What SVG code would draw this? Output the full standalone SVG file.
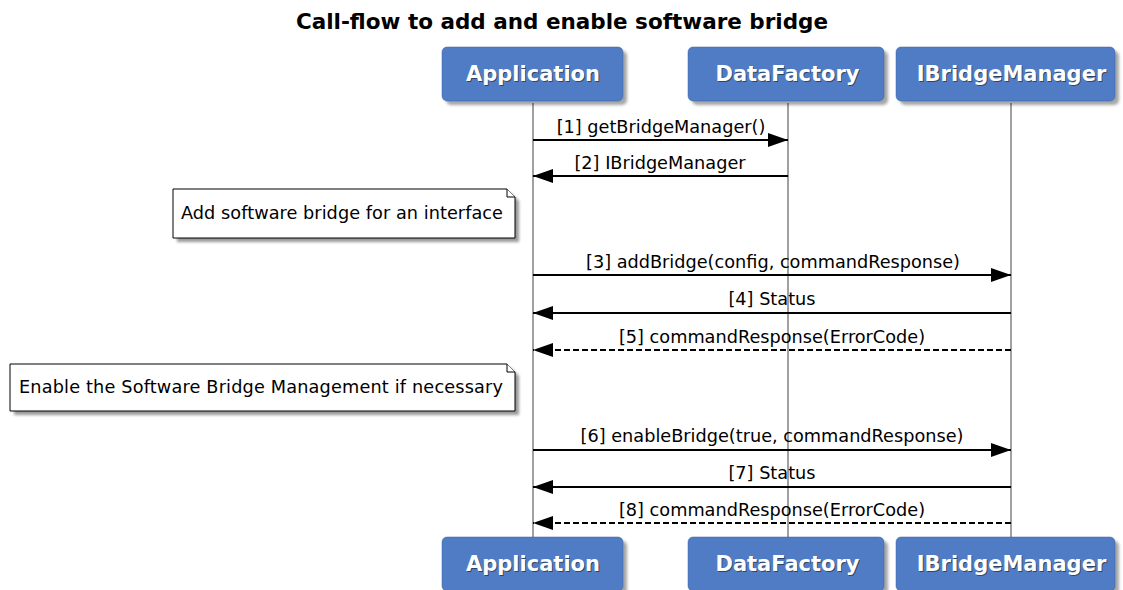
<svg xmlns="http://www.w3.org/2000/svg" width="1123" height="590" viewBox="0 0 1123 590">
<style>
.t{font-family:"DejaVu Sans",sans-serif;font-size:21.5px;font-weight:bold;fill:#000}
.pbox{fill:#4f7cc5;stroke:#3f63a0;stroke-width:0.5}
.pshadow{fill:#000;opacity:0.35;filter:url(#blur)}
.pt{font-family:"DejaVu Sans",sans-serif;font-size:21px;font-weight:bold;fill:#fff;text-anchor:middle}
.pts{font-family:"DejaVu Sans",sans-serif;font-size:21px;font-weight:bold;fill:#000;opacity:0.45;text-anchor:middle}
.life{stroke:#a0a0a0;stroke-width:2;fill:none}
.msg{stroke:#000;stroke-width:2;fill:none}
.dash{stroke-dasharray:6 3}
.ml{font-family:"DejaVu Sans",sans-serif;font-size:17.7px;fill:#000;text-anchor:middle}
.note{fill:#fff;stroke:#000;stroke-width:1}
.nshadow{fill:#000;opacity:0.4;filter:url(#blur)}
.nt{font-family:"DejaVu Sans",sans-serif;font-size:17.7px;fill:#000}
</style>
<defs>
<filter id="blur" x="-10%" y="-20%" width="120%" height="140%"><feGaussianBlur stdDeviation="1.5"/></filter>
<marker id="ah" markerWidth="20" markerHeight="14" refX="20" refY="7" orient="auto" markerUnits="userSpaceOnUse"><path d="M0,0 L20,7 L0,14 z" fill="#000"/></marker>
</defs>
<rect width="1123" height="590" fill="#fff"/>
<text class="t" x="562" y="29" text-anchor="middle">Call-flow to add and enable software bridge</text>

<g id="lifelines">
<line class="life" x1="533" y1="103" x2="533" y2="538"/>
<line class="life" x1="788" y1="103" x2="788" y2="538"/>
<line class="life" x1="1011" y1="103" x2="1011" y2="538"/>
</g>

<g id="p-application">
<rect class="pshadow" x="446" y="51" width="181" height="54" rx="5"/>
<rect class="pbox" x="442" y="47" width="181" height="54" rx="5"/>
<text class="pts" x="534" y="82">Application</text>
<text class="pt" x="533" y="81">Application</text>
</g>
<g id="p-datafactory">
<rect class="pshadow" x="692" y="51" width="196" height="54" rx="5"/>
<rect class="pbox" x="688" y="47" width="196" height="54" rx="5"/>
<text class="pts" x="788.5" y="82">DataFactory</text>
<text class="pt" x="787.5" y="81">DataFactory</text>
</g>
<g id="p-ibridgemanager">
<rect class="pshadow" x="900" y="51" width="219" height="54" rx="5"/>
<rect class="pbox" x="896" y="47" width="219" height="54" rx="5"/>
<text class="pts" x="1012.5" y="82">IBridgeManager</text>
<text class="pt" x="1011.5" y="81">IBridgeManager</text>
</g>

<g id="p-application-bottom">
<rect class="pshadow" x="446" y="541" width="181" height="54" rx="5"/>
<rect class="pbox" x="442" y="537" width="181" height="54" rx="5"/>
<text class="pts" x="534" y="572">Application</text>
<text class="pt" x="533" y="571">Application</text>
</g>
<g id="p-datafactory-bottom">
<rect class="pshadow" x="692" y="541" width="196" height="54" rx="5"/>
<rect class="pbox" x="688" y="537" width="196" height="54" rx="5"/>
<text class="pts" x="788.5" y="572">DataFactory</text>
<text class="pt" x="787.5" y="571">DataFactory</text>
</g>
<g id="p-ibridgemanager-bottom">
<rect class="pshadow" x="900" y="541" width="219" height="54" rx="5"/>
<rect class="pbox" x="896" y="537" width="219" height="54" rx="5"/>
<text class="pts" x="1012.5" y="572">IBridgeManager</text>
<text class="pt" x="1011.5" y="571">IBridgeManager</text>
</g>

<g id="note-1">
<path class="nshadow" d="M177,193 H511 L519,201 V242 H177 Z"/>
<path class="note" d="M173,189 H507 L515,197 V238 H173 Z"/>
<path class="note" d="M507,189 V197 H515" fill="none"/>
<text class="nt" x="181" y="219" textLength="322">Add software bridge for an interface</text>
</g>
<g id="note-2">
<path class="nshadow" d="M14,368 H511 L519,376 V415 H14 Z"/>
<path class="note" d="M10,364 H507 L515,372 V411 H10 Z"/>
<path class="note" d="M507,364 V372 H515" fill="none"/>
<text class="nt" x="19" y="393" textLength="484">Enable the Software Bridge Management if necessary</text>
</g>

<g id="connectors">
<line class="msg" x1="533" y1="140" x2="788" y2="140" marker-end="url(#ah)"/>
<text class="ml" x="661" y="133">[1] getBridgeManager()</text>
<line class="msg" x1="788" y1="176" x2="533" y2="176" marker-end="url(#ah)"/>
<text class="ml" x="660" y="169">[2] IBridgeManager</text>
<line class="msg" x1="533" y1="275" x2="1011" y2="275" marker-end="url(#ah)"/>
<text class="ml" x="773" y="268">[3] addBridge(config, commandResponse)</text>
<line class="msg" x1="1011" y1="313" x2="533" y2="313" marker-end="url(#ah)"/>
<text class="ml" x="772" y="305">[4] Status</text>
<line class="msg dash" x1="1011" y1="350" x2="533" y2="350" marker-end="url(#ah)"/>
<text class="ml" x="772" y="343">[5] commandResponse(ErrorCode)</text>
<line class="msg" x1="533" y1="450" x2="1011" y2="450" marker-end="url(#ah)"/>
<text class="ml" x="772" y="442">[6] enableBridge(true, commandResponse)</text>
<line class="msg" x1="1011" y1="487" x2="533" y2="487" marker-end="url(#ah)"/>
<text class="ml" x="772" y="479">[7] Status</text>
<line class="msg dash" x1="1011" y1="523" x2="533" y2="523" marker-end="url(#ah)"/>
<text class="ml" x="772" y="516">[8] commandResponse(ErrorCode)</text>
</g>
</svg>
